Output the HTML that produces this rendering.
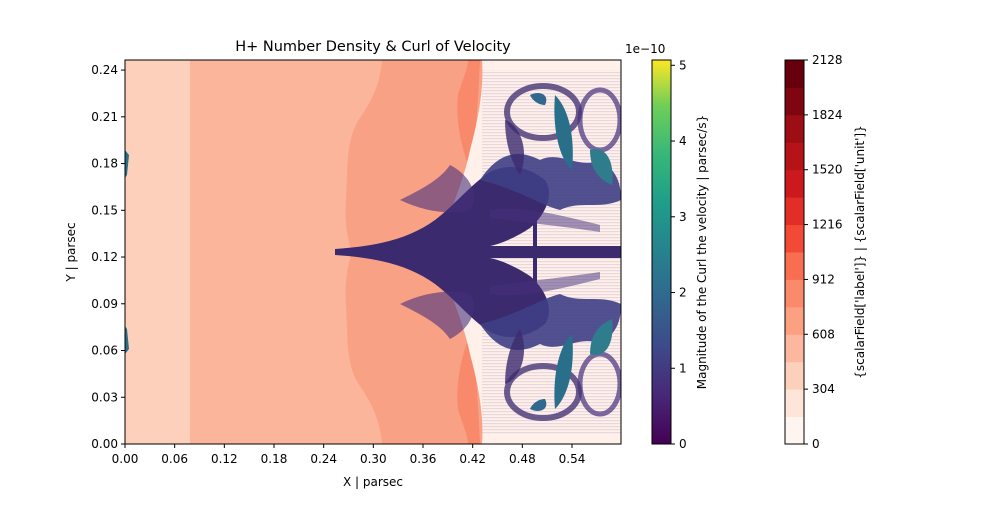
<!DOCTYPE html>
<html><head><meta charset="utf-8"><style>
body{margin:0;background:#fff;font-family:"Liberation Sans","DejaVu Sans",sans-serif}
svg text{font-family:"DejaVu Sans","Liberation Sans",sans-serif;font-size:12px;fill:#000}
</style></head><body>
<svg id="chart" width="1000" height="500" viewBox="0 0 1000 500" xmlns="http://www.w3.org/2000/svg">
<defs>
<clipPath id="clip"><rect x="125" y="60" width="496" height="384"/></clipPath>
<linearGradient id="viridis" x1="0" y1="1" x2="0" y2="0">
<stop offset="0" stop-color="#440154"/><stop offset="0.13" stop-color="#482878"/><stop offset="0.25" stop-color="#3e4989"/><stop offset="0.38" stop-color="#31688e"/><stop offset="0.5" stop-color="#26828e"/><stop offset="0.63" stop-color="#1f9e89"/><stop offset="0.75" stop-color="#35b779"/><stop offset="0.88" stop-color="#6ece58"/><stop offset="1" stop-color="#fde725"/>
</linearGradient>
<pattern id="hatch" width="4" height="3" patternUnits="userSpaceOnUse"><rect width="4" height="1.2" fill="#6a4f9a" opacity="0.3"/></pattern>
</defs>
<text x="373" y="51" text-anchor="middle" style="font-size:14.5px">H+ Number Density &amp; Curl of Velocity</text>
<g id="plot" clip-path="url(#clip)">
<rect x="125" y="60" width="496" height="384" fill="#fdd0bc"/>
<rect x="190" y="60" width="431" height="384" fill="#fbb59b"/>
<path fill="#f9a185" d="M382,60 C380,85 372,100 360,118 C345,140 348,170 346,200 C344,230 350,245 352,252 C350,260 344,275 346,305 C348,335 345,365 360,386 C372,404 380,420 382,444 L621,444 L621,60Z"/>
<path fill="#f8896a" d="M468,60 L480,60 C478,100 476,140 470,170 C462,150 455,120 458,95 C462,80 468,70 468,60Z M468,444 L480,444 C478,404 476,364 470,334 C462,354 455,384 458,409 C462,424 468,434 468,444Z"/>
<path fill="#fff0ea" d="M482,60 C484,90 478,120 470,150 C462,190 440,230 440,252 C440,274 462,314 470,354 C478,384 484,414 482,444 L621,444 L621,60Z"/>
<rect x="482" y="70" width="139" height="364" fill="url(#hatch)" opacity="0.5"/>
<g id="turb">
<g id="half">
<path fill="#3b2a6e" d="M335,249 C380,246 410,238 435,220 C455,205 470,185 490,172 C510,162 530,168 545,180 C555,195 545,215 530,228 C515,238 500,244 490,246 L621,246 L621,252 L335,252Z"/>
<path fill="#46307c" opacity="0.6" d="M400,200 C420,190 440,180 450,165 C470,175 480,195 470,210 C450,215 425,212 400,200Z"/>
<path fill="#3f3f85" opacity="0.9" d="M480,180 C500,150 520,150 540,160 C560,150 580,170 600,160 C615,170 621,180 621,200 C600,210 580,200 560,210 C540,205 520,190 480,180Z"/>
<ellipse cx="543" cy="112" rx="36" ry="26" fill="none" stroke="#3b2a6e" stroke-width="6" opacity="0.75"/>
<ellipse cx="600" cy="120" rx="20" ry="30" fill="none" stroke="#46307c" stroke-width="5" opacity="0.7"/>
<path fill="#2a6f8a" d="M555,95 C570,110 575,140 572,170 C560,160 552,130 555,95Z"/>
<path fill="#2f7d8c" d="M590,150 C605,145 615,160 612,185 C600,180 590,170 590,150Z"/>
<path fill="#31688e" d="M530,95 C540,90 550,95 545,105 C538,105 532,100 530,95Z"/>
<path fill="#3b2a6e" opacity="0.8" d="M505,120 C520,125 530,150 520,175 C510,160 505,140 505,120Z"/>
<rect x="533" y="215" width="4" height="35" fill="#3b2a6e"/>
<path fill="#46307c" opacity="0.5" d="M490,210 C520,205 560,215 600,225 L600,232 C560,226 520,222 490,218Z"/>
<path fill="#2a6f8a" d="M125,150 L129,155 L127,175 L125,178Z"/>
</g>
<use href="#half" transform="translate(0,504) scale(1,-1)"/>
</g>
</g>
<rect x="125" y="60" width="496" height="384" fill="none" stroke="#000" stroke-width="1"/>
<g id="xaxis"></g>
<g id="yaxis"></g>
<text x="373" y="486" text-anchor="middle">X | parsec</text>
<text transform="translate(75,252) rotate(-90)" text-anchor="middle">Y | parsec</text>
<rect x="652" y="60" width="19" height="384" fill="url(#viridis)" stroke="#000" stroke-width="1"/>
<g id="cb1"></g>
<text x="625" y="53">1e−10</text>
<text transform="translate(706,252) rotate(-90)" text-anchor="middle">Magnitude of the Curl the velocity | parsec/s}</text>
<g id="cb2"></g>
<text transform="translate(864,252) rotate(-90)" text-anchor="middle">{scalarField['label']} | {scalarField['unit']}</text>
</svg>
<script>
const xTicks=[0,0.06,0.12,0.18,0.24,0.30,0.36,0.42,0.48,0.54];
const yTicks=[0,0.03,0.06,0.09,0.12,0.15,0.18,0.21,0.24];
const curlTicks=[0,1,2,3,4,5];
const densityTicks=[0,304,608,912,1216,1520,1824,2128];
const densityLevels=["#fff5f0","#fee5d9","#fdd0bc","#fcb89e","#fca082","#fb8a6a","#f96e51","#f24a36","#e22e27","#cc191e","#b61319","#9d0d14","#7f0610","#67000d"];
const NS="http://www.w3.org/2000/svg";
const X=v=>125+v*827.8, Y=v=>444-v*1558, C1=v=>444-v*(384/5.07), C2=v=>444-v*(384/2128);
function el(t,a,p){const e=document.createElementNS(NS,t);for(const k in a)e.setAttribute(k,a[k]);p.appendChild(e);return e;}
const xa=document.getElementById('xaxis'),ya=document.getElementById('yaxis'),cb1=document.getElementById('cb1'),cb2=document.getElementById('cb2');
xTicks.forEach(v=>{const g=el('g',{},xa);


el('line',{x1:X(v),x2:X(v),y1:444,y2:448,stroke:'#000'},g);const t=el('text',{x:X(v),y:463,'text-anchor':'middle'},g);t.textContent=v.toFixed(2);});
yTicks.forEach(v=>{const g=el('g',{},ya);


el('line',{x1:121,x2:125,y1:Y(v),y2:Y(v),stroke:'#000'},g);const t=el('text',{x:118,y:Y(v)+4,'text-anchor':'end'},g);t.textContent=v.toFixed(2);});
curlTicks.forEach(v=>{const g=el('g',{},cb1);


el('line',{x1:671,x2:675,y1:C1(v),y2:C1(v),stroke:'#000'},g);const t=el('text',{x:679,y:C1(v)+4},g);t.textContent=v;});
const step=2128/densityLevels.length;
densityLevels.forEach((c,i)=>{const r=el('rect',{x:785,y:C2((i+1)*step),width:19,height:C2(i*step)-C2((i+1)*step)+0.5,fill:c},cb2);

});
el('rect',{x:785,y:60,width:19,height:384,fill:'none',stroke:'#000'},cb2);
densityTicks.forEach(v=>{const g=el('g',{},cb2);


el('line',{x1:804,x2:808,y1:C2(v),y2:C2(v),stroke:'#000'},g);const t=el('text',{x:812,y:C2(v)+4},g);t.textContent=v;});
</script>
</body></html>
